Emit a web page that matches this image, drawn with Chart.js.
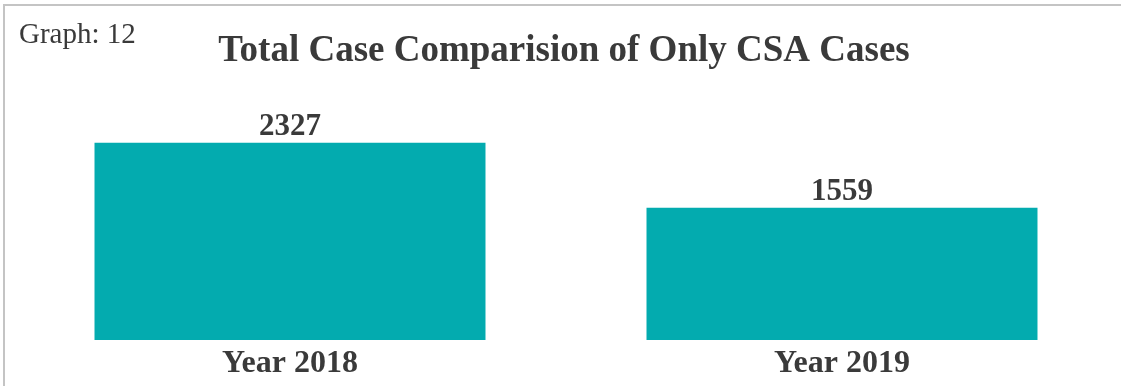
<!DOCTYPE html>
<html>
<head>
<meta charset="utf-8">
<script src="https://cdn.jsdelivr.net/npm/chart.js@4.4.1/dist/chart.umd.min.js"></script>
<style>
  html, body { margin: 0; padding: 0; background: #ffffff; overflow: hidden; }
  #chart { position: absolute; left: 0; top: 0; }
  /* frame: top and left rules only */
  #frame {
    position: absolute; left: 3px; top: 4px; width: 1118px; height: 382px;
    border-top: 2px solid #c4c4c4; border-left: 2px solid #c4c4c4;
    box-sizing: border-box; pointer-events: none;
  }
</style>
</head>
<body>
<canvas id="chart" width="1121" height="386"></canvas>
<div id="frame"></div>
<script>
const categories = ["Year 2018", "Year 2019"];
const caseCounts = [2327, 1559];
const graphLabel = "Graph: 12";
const chartTitle = "Total Case Comparision of Only CSA Cases";

const TEXT = "#3a3a3a";
const SERIF = "'Liberation Serif', 'DejaVu Serif', serif";

// Page-level captions and value labels above each bar
const captions = {
  id: "captions",
  afterDraw(chart) {
    const ctx = chart.ctx;
    ctx.save();
    ctx.fillStyle = TEXT;
    ctx.textBaseline = "alphabetic";

    ctx.font = "29px " + SERIF;
    ctx.textAlign = "left";
    ctx.fillText(graphLabel, 19, 43);

    ctx.font = "bold 37px " + SERIF;
    ctx.textAlign = "center";
    ctx.fillText(chartTitle, 564, 61);

    ctx.font = "bold 31px " + SERIF;
    const meta = chart.getDatasetMeta(0);
    meta.data.forEach((bar, i) => {
      ctx.fillText(String(caseCounts[i]), bar.x, bar.y - 8);
    });
    ctx.restore();
  }
};

new Chart(document.getElementById("chart"), {
  type: "bar",
  data: {
    labels: categories,
    datasets: [{
      data: caseCounts,
      backgroundColor: "#03abaf",
      borderWidth: 0,
      barPercentage: 0.7083,
      categoryPercentage: 1.0
    }]
  },
  options: {
    responsive: false,
    animation: false,
    events: [],
    layout: { padding: { top: 128, bottom: 0, left: 14, right: 3 } },
    plugins: {
      legend: { display: false },
      title: { display: false },
      tooltip: { enabled: false }
    },
    scales: {
      x: {
        grid: { display: false, drawTicks: false },
        border: { display: false },
        afterFit(scale) { scale.height = 46; },
        ticks: {
          color: TEXT,
          padding: 5,
          font: { family: SERIF, size: 32, weight: "bold" }
        }
      },
      y: {
        display: false,
        min: 0,
        max: 2500
      }
    }
  },
  plugins: [captions]
});
</script>
</body>
</html>
